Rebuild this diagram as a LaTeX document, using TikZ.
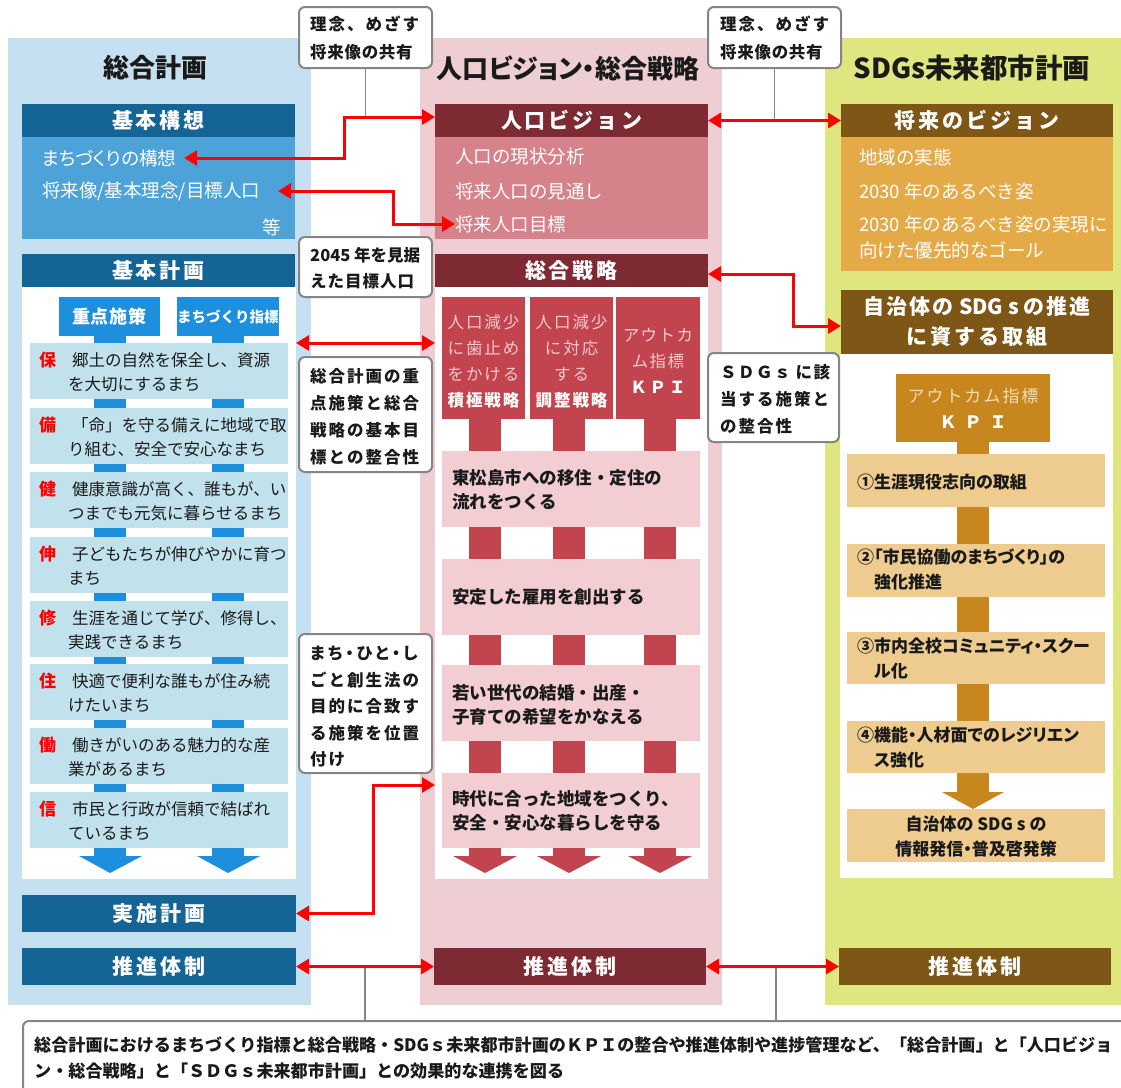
\documentclass[tikz,border=0pt]{standalone}
\usepackage{fontspec}
\setmainfont{Noto Sans CJK JP}
\newfontfamily\jpp{Noto Sans CJK JP}[RawFeature=+palt]
\usetikzlibrary{arrows.meta,calc}
\definecolor{lpbg}{HTML}{C5E0F0}
\definecolor{dblue}{HTML}{156496}
\definecolor{mblue}{HTML}{4DA3D8}
\definecolor{bblue}{HTML}{1E8FDD}
\definecolor{rowb}{HTML}{C1E2EC}
\definecolor{mpbg}{HTML}{EECED2}
\definecolor{dred}{HTML}{7D2A33}
\definecolor{mred}{HTML}{D5828A}
\definecolor{cred}{HTML}{C1444F}
\definecolor{gpink}{HTML}{F2CED3}
\definecolor{lpk}{HTML}{F4C9CD}
\definecolor{rpbg}{HTML}{E0E67F}
\definecolor{dbrown}{HTML}{7E5716}
\definecolor{orng}{HTML}{E4AA48}
\definecolor{gold}{HTML}{C7861E}
\definecolor{ltan}{HTML}{F6DDB4}
\definecolor{tanbox}{HTML}{EECB8F}
\definecolor{arrred}{HTML}{FF0000}
\definecolor{cgray}{HTML}{858585}
\definecolor{txt}{HTML}{1A1A1A}
\def\lspgob#1{}
\newcommand\lsp[2]{\def\lspamt{#1}\lspi#2\relax}
\def\lspi#1#2{#1\ifx\relax#2\expandafter\lspgob\else\kern\lspamt\relax\expandafter\lspi\fi#2}
\newcommand\mkbox[6]{\node[#2,inner sep=0pt,outer sep=0pt,anchor=north west,minimum width={(#5-#3)*1pt},minimum height={(#6-#4)*1pt}] (#1) at (#3,#4)}
\newcommand\rowitem[5]{%
 \mkbox{#1}{fill=rowb}{30}{#2}{288}{#2+56}{};
 \node[redc] (#1c) at (39,#2+17) {#3};
 \node[rowt] (#1t) at (68,#2+29) {\hspace*{4pt}#4\\#5};}
\begin{document}
\begin{tikzpicture}[x=1pt,y=-1pt,
 hdr/.style={text=white,font=\fontsize{21}{26}\selectfont\bfseries},
 titl/.style={inner sep=0pt,text=txt,font=\fontsize{26}{30}\selectfont\bfseries},
 ctx/.style={inner sep=0pt,outer sep=0pt,anchor=west,text=white,font=\fontsize{18.5}{22}\selectfont},
 rowt/.style={inner sep=0pt,anchor=west,text=txt,font=\fontsize{16.5}{24}\selectfont,align=left},
 redc/.style={inner sep=0pt,anchor=west,text=red,font=\fontsize{17}{20}\selectfont\bfseries},
 goalt/.style={inner sep=0pt,anchor=west,text=txt,font=\fontsize{17.5}{24}\selectfont\bfseries,align=left},
 callt/.style={inner sep=0pt,anchor=west,text=txt,font=\fontsize{16.5}{27}\selectfont\bfseries,align=left},
 stept/.style={inner sep=0pt,anchor=west,text=txt,font=\fontsize{17}{25}\selectfont\jpp\bfseries,align=left},
 colt/.style={inner sep=0pt,align=center,text=lpk,font=\fontsize{16.5}{26}\selectfont},
 cbox/.style={draw=cgray,line width=2pt,fill=white,rounded corners=6pt},
 rarr/.style={draw=arrred,line width=3pt,{Triangle[length=13pt,width=15pt]}-{Triangle[length=13pt,width=15pt]}},
 gline/.style={draw=cgray,line width=1.8pt}]
\useasboundingbox (0,0) rectangle (1121,1087);
\fill[white] (0,0) rectangle (1121,1087);
% panels
\mkbox{lp}{fill=lpbg}{8}{38}{311}{1005}{};
\mkbox{mp}{fill=mpbg}{420}{38}{722}{1005}{};
\mkbox{rp}{fill=rpbg}{825}{38}{1121}{1005}{};
\node[titl] (tt1) at (155,68) {総合計画};
\node[titl,font=\fontsize{26}{30}\selectfont\jpp\bfseries] (tt2) at (568,68) {人口ビジョン・総合戦略};
\node[titl,font=\fontsize{27.5}{30}\selectfont\bfseries] (tt3) at (972,68) {SDGs未来都市計画};
% ===== left column
\mkbox{hkoso}{fill=dblue,hdr}{22}{104}{295}{137}{\lsp{3pt}{基本構想}};
\mkbox{ckoso}{fill=mblue}{22}{137}{295}{239}{};
\node[ctx] (tmachi) at (42,158) {\jpp まちづくりの構想};
\node[ctx] (tshorai) at (42,191) {将来像/基本理念/目標人口};
\node[ctx,anchor=center] (tto) at (272,227) {等};
\mkbox{hkeikaku}{fill=dblue,hdr}{22}{254}{295}{287}{\lsp{3pt}{基本計画}};
\mkbox{wkeikaku}{fill=white}{22}{287}{296}{879}{};
\fill[bblue] (94,336) rectangle (126,856);
\fill[bblue] (212,336) rectangle (244,856);
\fill[bblue] (79,856) -- (142,856) -- (110,873) -- cycle;
\fill[bblue] (197,856) -- (260,856) -- (228,873) -- cycle;
\mkbox{bjuten}{fill=bblue,text=white,font=\fontsize{18}{20}\selectfont\bfseries}{59}{297}{160}{336}{\lsp{1pt}{重点施策}};
\mkbox{bshihyo}{fill=bblue,text=white,font=\fontsize{14.5}{18}\selectfont\bfseries}{177}{297}{278}{336}{まちづくり指標};
\rowitem{ra}{343}{保}{郷土の自然を保全し、資源}{を大切にするまち}
\rowitem{rb}{408}{備}{「命」を守る備えに地域で取}{り組む、安全で安心なまち}
\rowitem{rc}{472}{健}{健康意識が高く、誰もが、い}{つまでも元気に暮らせるまち}
\rowitem{rd}{537}{伸}{子どもたちが伸びやかに育つ}{まち}
\rowitem{re}{601}{修}{生涯を通じて学び、修得し、}{実践できるまち}
\rowitem{rf}{664}{住}{快適で便利な誰もが住み続}{けたいまち}
\rowitem{rg}{728}{働}{働きがいのある魅力的な産}{業があるまち}
\rowitem{rh}{792}{信}{市民と行政が信頼で結ばれ}{ているまち}
\mkbox{jisshi}{fill=dblue,hdr}{22}{895}{296}{932}{\lsp{3pt}{実施計画}};
\mkbox{suiL}{fill=dblue,hdr}{22}{948}{296}{985}{\lsp{3pt}{推進体制}};
% ===== middle column
\mkbox{hjvis}{fill=dred,hdr}{435}{104}{708}{137}{\lsp{3pt}{人口ビジョン}};
\mkbox{cjvis}{fill=mred}{435}{137}{708}{239}{};
\node[ctx] (tjm1) at (455,157) {人口の現状分析};
\node[ctx] (tjm2) at (455,191) {将来人口の見通し};
\node[ctx] (tjm3) at (455,224) {将来人口目標};
\mkbox{hsogo}{fill=dred,hdr}{435}{254}{708}{287}{\lsp{3pt}{総合戦略}};
\mkbox{wsogo}{fill=white}{435}{287}{708}{879}{};
\foreach \c in {485,569,660} {
 \fill[cred] (\c-16,419) rectangle (\c+16,856);
 \fill[cred] (\c-32,856) -- (\c+32,856) -- (\c,873) -- cycle;}
\mkbox{k1}{fill=cred}{442}{297}{525}{419}{};
\mkbox{k2}{fill=cred}{530}{297}{613}{419}{};
\mkbox{k3}{fill=cred}{616}{297}{700}{419}{};
\node[colt] (k1t) at (483.5,361) {\lsp{2pt}{人口減少}\\\lsp{2pt}{に歯止め}\\\lsp{2pt}{をかける}\\{\color{white}\bfseries\lsp{2pt}{積極戦略}}};
\node[colt] (k2t) at (571.5,361) {\lsp{2pt}{人口減少}\\\lsp{2pt}{に対応}\\\lsp{2pt}{する}\\{\color{white}\bfseries\lsp{2pt}{調整戦略}}};
\node[colt] (k3t) at (658,360.5) {\lsp{1.5pt}{アウトカ}\\\lsp{1.5pt}{ム指標}\\{\color{white}\bfseries\lsp{3pt}{ＫＰＩ}}};
\mkbox{g1}{fill=gpink}{442}{451}{700}{527}{};
\mkbox{g2}{fill=gpink}{442}{559}{700}{635}{};
\mkbox{g3}{fill=gpink}{442}{665}{700}{741}{};
\mkbox{g4}{fill=gpink}{442}{773}{700}{848}{};
\node[goalt] (g1t) at (452,490) {東松島市への移住・定住の\\流れをつくる};
\node[goalt] (g2t) at (452,597) {安定した雇用を創出する};
\node[goalt] (g3t) at (452,705) {若い世代の結婚・出産・\\子育ての希望をかなえる};
\node[goalt] (g4t) at (452,810.5) {時代に合った地域をつくり、\\安全・安心な暮らしを守る};
\mkbox{suiM}{fill=dred,hdr}{434}{948}{706}{985}{\lsp{3pt}{推進体制}};
% ===== right column
\mkbox{hsvis}{fill=dbrown,hdr}{841}{104}{1113}{137}{\lsp{3pt}{将来のビジョン}};
\mkbox{csvis}{fill=orng}{841}{137}{1113}{271}{};
\node[ctx] (ts1) at (859,157) {地域の実態};
\node[ctx] (ts2) at (859,191) {2030 年のあるべき姿};
\node[ctx] (ts3) at (859,224) {2030 年のあるべき姿の実現に};
\node[ctx] (ts4) at (859,250) {向けた優先的なゴール};
\mkbox{htori}{fill=dbrown,hdr,align=center,font=\fontsize{21}{30}\selectfont\bfseries}{841}{290}{1113}{354}{\lsp{2pt}{自治体の}\hspace{6pt}SDG\hspace{5pt}s\hspace{5pt}\lsp{2pt}{の推進}\\\lsp{3pt}{に資する取組}};
\mkbox{wtori}{fill=white}{840}{354}{1113}{878}{};
\fill[gold] (957,442) rectangle (989,792);
\fill[gold] (942,792) -- (1004,792) -- (973,809) -- cycle;
\mkbox{kpi}{fill=gold,align=center,font=\fontsize{17}{26}\selectfont}{896}{374}{1050}{442}{{\color{ltan}\lsp{2pt}{アウトカム指標}}\\{\bfseries\color{white}\lsp{8pt}{ＫＰＩ}}};
\mkbox{s1}{fill=tanbox}{847}{454}{1105}{507}{};
\mkbox{s2}{fill=tanbox}{847}{544}{1105}{597}{};
\mkbox{s3}{fill=tanbox}{847}{632}{1105}{684}{};
\mkbox{s4}{fill=tanbox}{847}{721}{1105}{773}{};
\mkbox{s5}{fill=tanbox}{847}{809}{1105}{862}{};
\node[stept] (s1t) at (857,482) {①生涯現役志向の取組};
\node[stept] (s2t) at (857,569.5) {②「市民協働のまちづくり」の\\\hphantom{②}強化推進};
\node[stept] (s3t) at (857,658.5) {③市内全校コミュニティ・スクー\\\hphantom{③}ル化};
\node[stept] (s4t) at (857,747.5) {④機能・人材面でのレジリエン\\\hphantom{④}ス強化};
\node[stept,anchor=center,align=center] (s5t) at (976,836.5) {自治体の SDG s の\\情報発信・普及啓発策};
\mkbox{suiR}{fill=dbrown,hdr}{839}{948}{1111}{985}{\lsp{3pt}{推進体制}};
% ===== callouts
\mkbox{co1}{cbox}{299}{7}{432}{68}{};
\node[callt,font=\fontsize{16.5}{28}\selectfont\bfseries] (co1t) at (310,38) {\lsp{2pt}{理念、めざす}\\\lsp{0.7pt}{将来像の共有}};
\mkbox{co2}{cbox}{708}{7}{841}{68}{};
\node[callt,font=\fontsize{16.5}{28}\selectfont\bfseries] (co2t) at (720,38) {\lsp{2pt}{理念、めざす}\\\lsp{0.7pt}{将来像の共有}};
\mkbox{co3}{cbox}{299}{237}{432}{297}{};
\node[callt,font=\fontsize{16.5}{26}\selectfont\bfseries] (co3t) at (310,268) {2045 年を見据\\\lsp{1pt}{えた目標人口}};
\mkbox{co4}{cbox}{299}{357}{432}{472}{};
\node[callt] (co4t) at (310,416.5) {\lsp{2pt}{総合計画の重}\\\lsp{2pt}{点施策と総合}\\\lsp{2pt}{戦略の基本目}\\\lsp{2pt}{標との整合性}};
\mkbox{co5}{cbox}{708}{353}{839}{442}{};
\node[callt] (co5t) at (720,399.5) {\lsp{1.5pt}{ＳＤＧｓ}\hspace{5pt}\lsp{1.5pt}{に該}\\\lsp{2pt}{当する施策と}\\\lsp{2pt}{の整合性}};
\mkbox{co6}{cbox}{299}{634}{432}{773}{};
\node[callt,font=\fontsize{16.5}{26.5}\selectfont\bfseries] (co6t) at (310,707) {{\jpp\lsp{3pt}{まち・ひと・し}}\\\lsp{2pt}{ごと創生法の}\\\lsp{2pt}{目的に合致す}\\\lsp{2pt}{る施策を位置}\\\lsp{2pt}{付け}};
\mkbox{bot}{cbox}{23}{1021}{1145}{1110}{};
\node[inner sep=0pt,anchor=west,text=txt,font=\fontsize{17.1}{26}\selectfont\bfseries,align=left] (bott) at (34,1058) {総合計画におけるまちづくり指標と総合戦略・SDGｓ未来都市計画のＫＰＩの整合や推進体制や進捗管理など、「総合計画」と「人口ビジョ\\ン・総合戦略」と「ＳＤＧｓ未来都市計画」との効果的な連携を図る};
% ===== grey leader lines
\coordinate (y1) at (0,117);
\coordinate (gx1) at (365,0);
\coordinate (gx2) at (776,0);
\draw[gline] (co1.south) -- (co1.south |- y1);
\draw[gline] (co2.south) -- (co2.south |- hjvis.east);
\draw[gline] (suiL.east -| gx1) -- (bot.north -| gx1);
\draw[gline] (suiL.east -| gx2) -- (bot.north -| gx2);
% ===== red arrows
\coordinate (y5) at (0,343);
\coordinate (y6) at (0,785);
\draw[rarr] ([xshift=8pt]tmachi.east) -| (344,140) |- ([yshift=3.5pt]hjvis.west);
\draw[rarr] ([xshift=236pt]tshorai.west) -| (393,210) |- (tjm3.west);
\draw[rarr] (hjvis.east) -- (hsvis.west);
\draw[rarr] ([yshift=-3.5pt]hsogo.east) -| (793,300) |- ([yshift=-4pt]htori.west);
\draw[rarr] (wkeikaku.east |- y5) -- (wsogo.west |- y5);
\draw[rarr] (jisshi.east) -| (373,850) |- (wsogo.west |- y6);
\draw[rarr] (suiL.east) -- (suiM.west);
\draw[rarr] (suiM.east) -- (suiR.west);
\end{tikzpicture}
\end{document}
